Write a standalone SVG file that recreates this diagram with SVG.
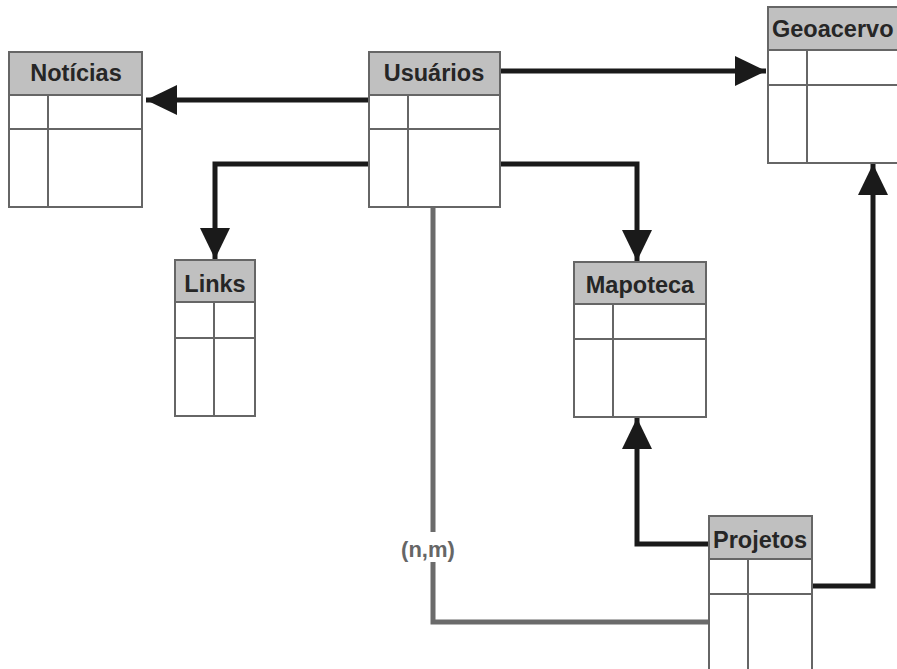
<svg xmlns="http://www.w3.org/2000/svg" width="897" height="669" viewBox="0 0 897 669">
<style>
.box{fill:#fff;stroke:#666;stroke-width:2}
.hdr{fill:#c0c0c0;stroke:#666;stroke-width:2}
.ln{stroke:#666;stroke-width:2;fill:none}
.t{font-family:"Liberation Sans",Arial,sans-serif;font-weight:bold;font-size:23.5px;fill:#262626}
.c{fill:none;stroke:#1a1a1a;stroke-width:5;stroke-linejoin:miter}
.g{fill:none;stroke:#6b6b6b;stroke-width:5}
.lbl{font-family:"Liberation Sans",Arial,sans-serif;font-weight:bold;font-size:22px;fill:#666}
</style>
<defs>
<marker id="ah" markerUnits="userSpaceOnUse" markerWidth="32" markerHeight="30" refX="31" refY="15" orient="auto">
<path d="M0,0 L31,15 L0,30 Z" fill="#1a1a1a"/>
</marker>
</defs>
<rect width="897" height="669" fill="#fff"/>
<g id="connectors">
<path class="c" d="M369,100 H146" marker-end="url(#ah)"/>
<path class="c" d="M500,71 H766" marker-end="url(#ah)"/>
<path class="c" d="M369,164 H215 V259" marker-end="url(#ah)"/>
<path class="c" d="M500,164 H637 V261" marker-end="url(#ah)"/>
<path class="c" d="M709,544 H637 V418" marker-end="url(#ah)"/>
<path class="c" d="M812,586 H873 V164" marker-end="url(#ah)"/>
<path class="g" d="M433,207 V532 M433,562 V622 H709"/>
<text class="lbl" x="428" y="557" text-anchor="middle">(n,m)</text>
</g>
<g id="noticias">
<rect class="box" x="9" y="52" width="133" height="155"/>
<rect class="hdr" x="9" y="52" width="133" height="43"/>
<path class="ln" d="M9,129 H142 M48,95 V207"/>
<text class="t" x="76" y="81" text-anchor="middle">Notícias</text>
</g>
<g id="usuarios">
<rect class="box" x="369" y="52" width="131" height="155"/>
<rect class="hdr" x="369" y="52" width="131" height="43"/>
<path class="ln" d="M369,129 H500 M408,95 V207"/>
<text class="t" x="434" y="81" text-anchor="middle">Usuários</text>
</g>
<g id="geoacervo">
<rect class="box" x="768" y="7" width="140" height="156"/>
<rect class="hdr" x="768" y="7" width="140" height="43"/>
<path class="ln" d="M768,85 H908 M807,50 V163"/>
<text class="t" x="772" y="37">Geoacervo</text>
</g>
<g id="links">
<rect class="box" x="175" y="260" width="80" height="156"/>
<rect class="hdr" x="175" y="260" width="80" height="42"/>
<path class="ln" d="M175,338 H255 M214,302 V416"/>
<text class="t" x="215" y="292" text-anchor="middle">Links</text>
</g>
<g id="mapoteca">
<rect class="box" x="574" y="262" width="132" height="155"/>
<rect class="hdr" x="574" y="262" width="132" height="42"/>
<path class="ln" d="M574,339 H706 M613,304 V417"/>
<text class="t" x="640" y="293" text-anchor="middle">Mapoteca</text>
</g>
<g id="projetos">
<rect class="box" x="709" y="516" width="103" height="170"/>
<rect class="hdr" x="709" y="516" width="103" height="43"/>
<path class="ln" d="M709,594 H812 M748,559 V686"/>
<text class="t" x="760" y="548" text-anchor="middle">Projetos</text>
</g>
</svg>
